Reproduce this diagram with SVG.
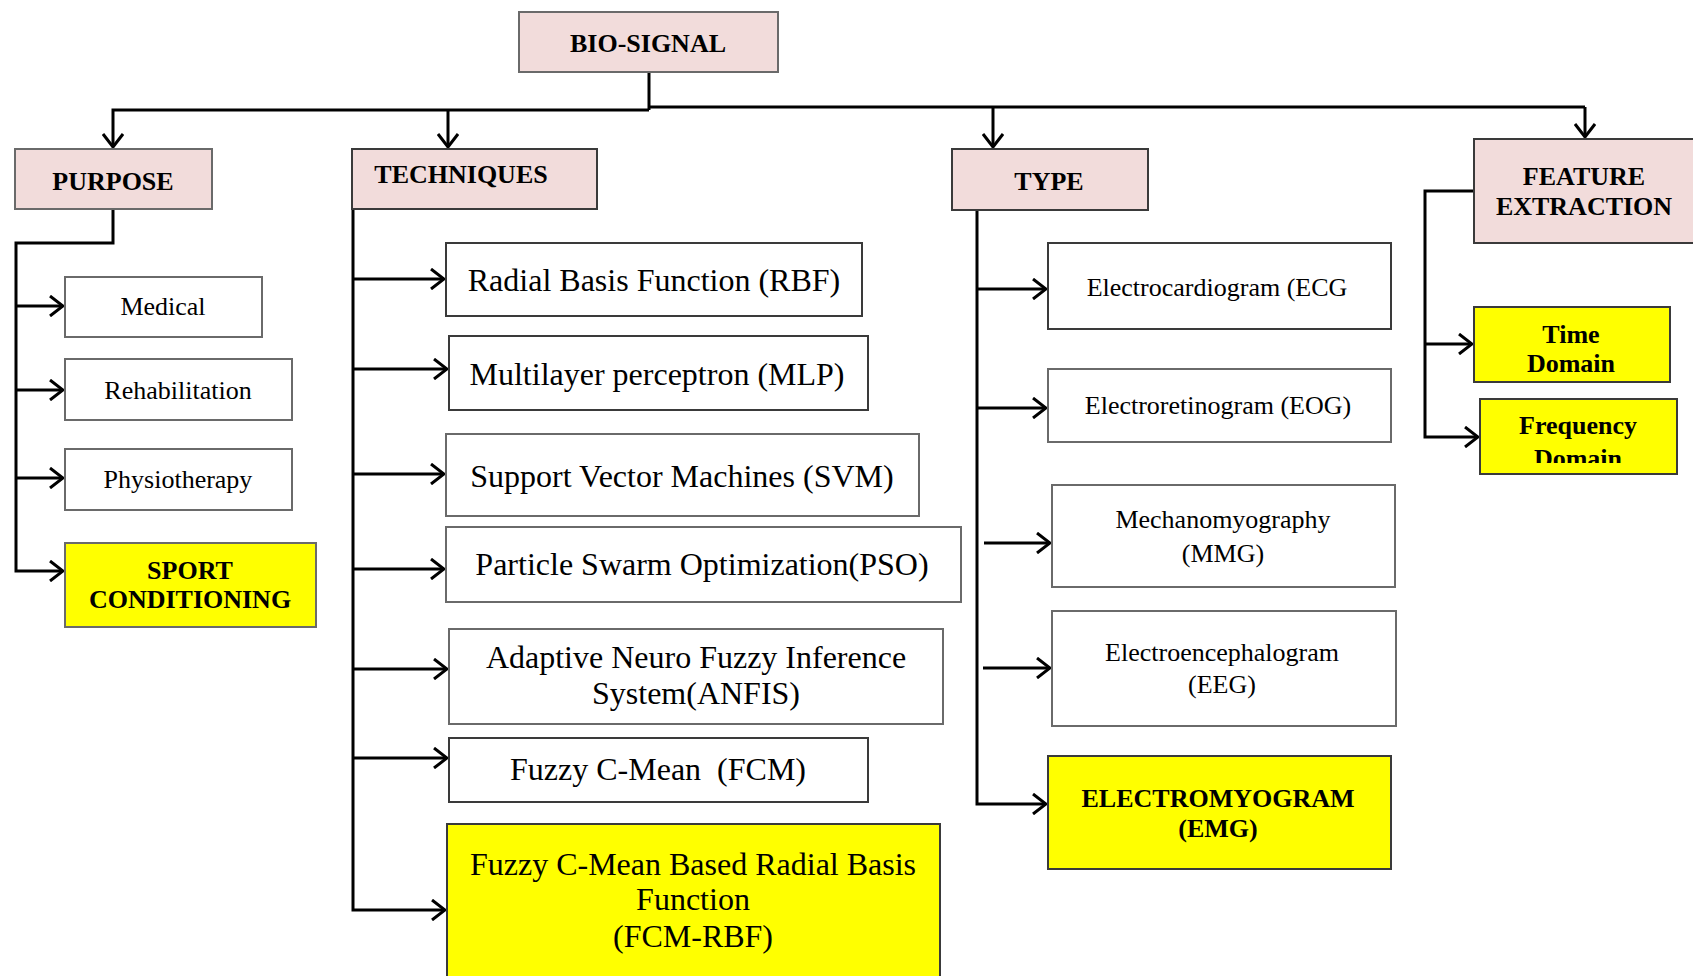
<svg xmlns="http://www.w3.org/2000/svg" width="1693" height="976" viewBox="0 0 1693 976">
  <style>
    .box { stroke: #3a3a3a; stroke-width: 2; }
    .gray { stroke: #6a6a6a; }
    .head { fill: #f2dcdb; }
    .plain { fill: #ffffff; }
    .hi { fill: #ffff00; }
    .t { font-family: "Liberation Serif", "Times New Roman", serif; fill: #000; text-anchor: middle; }
    .b { font-weight: bold; font-size: 26px; }
    .s { font-size: 26px; }
    .l { font-size: 32px; }
    .wire { fill: none; stroke: #000; stroke-width: 3; stroke-linejoin: miter; }
    .arr { marker-end: url(#chev); }
  </style>
  <defs>
    <marker id="chev" viewBox="0 0 16 22" refX="14" refY="11" markerWidth="16" markerHeight="22" markerUnits="userSpaceOnUse" orient="auto">
      <path d="M1,1 L14,11 L1,21" fill="none" stroke="#000" stroke-width="3"/>
    </marker>
    <clipPath id="freqClip">
      <rect x="1480" y="399" width="197" height="64"/>
    </clipPath>
  </defs>

  <rect width="1693" height="976" fill="#ffffff"/>

  <!-- connectors -->
  <g id="connectors">
    <path class="wire" d="M649,72 V110"/>
    <path class="wire arr" d="M649,110 H113 V147"/>
    <path class="wire" d="M649,107 H1585" stroke-width="3.5"/>
    <path class="wire arr" d="M1585,107 V137"/>
    <path class="wire arr" d="M448,110 V147"/>
    <path class="wire arr" d="M993,107 V147"/>

    <!-- purpose branch -->
    <path class="wire arr" d="M113,209 V243 H16 V571 H63"/>
    <path class="wire arr" d="M16,306 H63"/>
    <path class="wire arr" d="M16,390 H63"/>
    <path class="wire arr" d="M16,478 H63"/>

    <!-- techniques branch -->
    <path class="wire arr" d="M353,209 V910 H445"/>
    <path class="wire arr" d="M353,279 H444"/>
    <path class="wire arr" d="M353,369 H447"/>
    <path class="wire arr" d="M353,474 H444"/>
    <path class="wire arr" d="M353,569 H444"/>
    <path class="wire arr" d="M353,669 H447"/>
    <path class="wire arr" d="M353,758 H447"/>

    <!-- type branch -->
    <path class="wire arr" d="M977,209 V804 H1046"/>
    <path class="wire arr" d="M977,289 H1046"/>
    <path class="wire arr" d="M977,408 H1046"/>
    <path class="wire arr" d="M984,543 H1050"/>
    <path class="wire arr" d="M983,668 H1050"/>

    <!-- feature extraction branch -->
    <path class="wire arr" d="M1474,191 H1425 V437 H1478"/>
    <path class="wire arr" d="M1425,344 H1472"/>
  </g>

  <!-- root -->
  <g id="bio-signal">
    <rect class="box gray head" x="519" y="12" width="259" height="60"/>
    <text class="t b" x="648" y="52">BIO-SIGNAL</text>
  </g>

  <!-- category headers -->
  <g id="purpose">
    <rect class="box gray head" x="15" y="149" width="197" height="60"/>
    <text class="t b" x="113" y="190">PURPOSE</text>
  </g>
  <g id="techniques">
    <rect class="box head" x="352" y="149" width="245" height="60"/>
    <text class="t b" x="461" y="183">TECHNIQUES</text>
  </g>
  <g id="type">
    <rect class="box head" x="952" y="149" width="196" height="61"/>
    <text class="t b" x="1049" y="190">TYPE</text>
  </g>
  <g id="feature-extraction">
    <rect class="box head" x="1474" y="139" width="230" height="104"/>
    <text class="t b" x="1584" y="185">FEATURE</text>
    <text class="t b" x="1584" y="215">EXTRACTION</text>
  </g>

  <!-- purpose items -->
  <g id="medical">
    <rect class="box gray plain" x="65" y="277" width="197" height="60"/>
    <text class="t s" x="163" y="315">Medical</text>
  </g>
  <g id="rehabilitation">
    <rect class="box gray plain" x="65" y="359" width="227" height="61"/>
    <text class="t s" x="178" y="399">Rehabilitation</text>
  </g>
  <g id="physiotherapy">
    <rect class="box gray plain" x="65" y="449" width="227" height="61"/>
    <text class="t s" x="178" y="488">Physiotherapy</text>
  </g>
  <g id="sport-conditioning">
    <rect class="box gray hi" x="65" y="543" width="251" height="84"/>
    <text class="t b" x="190" y="579">SPORT</text>
    <text class="t b" x="190" y="608">CONDITIONING</text>
  </g>

  <!-- techniques items -->
  <g id="rbf">
    <rect class="box plain" x="446" y="243" width="416" height="73"/>
    <text class="t l" x="654" y="291">Radial Basis Function (RBF)</text>
  </g>
  <g id="mlp">
    <rect class="box plain" x="449" y="336" width="419" height="74"/>
    <text class="t l" x="657" y="385">Multilayer perceptron (MLP)</text>
  </g>
  <g id="svm">
    <rect class="box gray plain" x="446" y="434" width="473" height="82"/>
    <text class="t l" x="682" y="487">Support Vector Machines (SVM)</text>
  </g>
  <g id="pso">
    <rect class="box gray plain" x="446" y="527" width="515" height="75"/>
    <text class="t l" x="702" y="575">Particle Swarm Optimization(PSO)</text>
  </g>
  <g id="anfis">
    <rect class="box gray plain" x="449" y="629" width="494" height="95"/>
    <text class="t l" x="696" y="668">Adaptive Neuro Fuzzy Inference</text>
    <text class="t l" x="696" y="704">System(ANFIS)</text>
  </g>
  <g id="fcm">
    <rect class="box plain" x="449" y="738" width="419" height="64"/>
    <text class="t l" x="658" y="780" xml:space="preserve">Fuzzy C-Mean  (FCM)</text>
  </g>
  <g id="fcm-rbf">
    <rect class="box hi" x="447" y="824" width="493" height="170"/>
    <text class="t l" x="693" y="875">Fuzzy C-Mean Based Radial Basis</text>
    <text class="t l" x="693" y="910">Function</text>
    <text class="t l" x="693" y="947">(FCM-RBF)</text>
  </g>

  <!-- signal types -->
  <g id="ecg">
    <rect class="box plain" x="1048" y="243" width="343" height="86"/>
    <text class="t s" x="1217" y="296">Electrocardiogram (ECG</text>
  </g>
  <g id="eog">
    <rect class="box gray plain" x="1048" y="369" width="343" height="73"/>
    <text class="t s" x="1218" y="414">Electroretinogram (EOG)</text>
  </g>
  <g id="mmg">
    <rect class="box gray plain" x="1052" y="485" width="343" height="102"/>
    <text class="t s" x="1223" y="528">Mechanomyography</text>
    <text class="t s" x="1223" y="562">(MMG)</text>
  </g>
  <g id="eeg">
    <rect class="box gray plain" x="1052" y="611" width="344" height="115"/>
    <text class="t s" x="1222" y="661">Electroencephalogram</text>
    <text class="t s" x="1222" y="693">(EEG)</text>
  </g>
  <g id="emg">
    <rect class="box hi" x="1048" y="756" width="343" height="113"/>
    <text class="t b" x="1218" y="807">ELECTROMYOGRAM</text>
    <text class="t b" x="1218" y="837">(EMG)</text>
  </g>

  <!-- feature domains -->
  <g id="time-domain">
    <rect class="box hi" x="1474" y="307" width="196" height="75"/>
    <text class="t b" x="1571" y="343">Time</text>
    <text class="t b" x="1571" y="372">Domain</text>
  </g>
  <g id="frequency-domain">
    <rect class="box hi" x="1480" y="399" width="197" height="75"/>
    <g clip-path="url(#freqClip)">
      <text class="t b" x="1578" y="434">Frequency</text>
      <text class="t b" x="1578" y="467">Domain</text>
    </g>
  </g>
</svg>
